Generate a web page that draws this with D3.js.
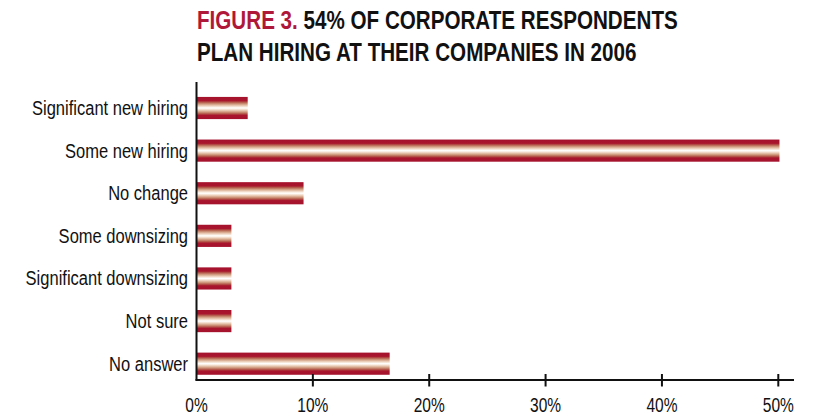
<!DOCTYPE html>
<html>
<head>
<meta charset="utf-8">
<script src="https://cdn.jsdelivr.net/npm/d3@7"></script>
<style>
  html, body { margin: 0; padding: 0; background: #fff; }
  svg { display: block; }
  text { font-family: "Liberation Sans", Arial, sans-serif; }
</style>
</head>
<body>
<svg id="chart" width="827" height="418"></svg>
<script>
// Hiring plans for 2006, share of corporate respondents (%)
const categories = [
  "Significant new hiring",
  "Some new hiring",
  "No change",
  "Some downsizing",
  "Significant downsizing",
  "Not sure",
  "No answer"
];
const values = [4.4, 50.1, 9.2, 3.0, 3.0, 3.0, 16.6];
const tickValues = [0, 10, 20, 30, 40, 50];
const tickLabels = ["0%", "10%", "20%", "30%", "40%", "50%"];

const svg = d3.select("#chart");

// Condensed type: squeeze text horizontally around its anchor point
const squeeze = (px, py, sx) => `translate(${px},${py}) scale(${sx},1)`;

// Bar fill: crimson edges fading through tan to a white centre line
const defs = svg.append("defs");
const grad = defs.append("linearGradient")
  .attr("id", "barGrad")
  .attr("x1", 0).attr("y1", 0).attr("x2", 0).attr("y2", 1);
[
  [0.00, "#a5122c"], [0.17, "#a8152d"], [0.24, "#b4584a"],
  [0.32, "#cf9a7e"], [0.40, "#ebcdb8"], [0.47, "#fbf3ec"],
  [0.50, "#ffffff"], [0.53, "#fbf3ec"], [0.60, "#ebcdb8"],
  [0.68, "#cf9a7e"], [0.76, "#b4584a"], [0.83, "#a8152d"],
  [1.00, "#a5122c"]
].forEach(([o, c]) => grad.append("stop").attr("offset", o).attr("stop-color", c));

const x = d3.scaleLinear().domain([0, 50]).range([196.5, 778.3]);
const y = d3.scaleBand().domain(categories)
  .range([86.7, 385]).paddingInner(0.48).paddingOuter(0.24);

// Title
const title = svg.append("text")
  .attr("transform", squeeze(197, 29, 0.825))
  .attr("font-size", 25).attr("font-weight", "bold");
title.append("tspan").attr("fill", "#b0183a").text("FIGURE 3.");
title.append("tspan").attr("fill", "#111").text(" 54% OF CORPORATE RESPONDENTS");
svg.append("text")
  .attr("transform", squeeze(197, 61, 0.825))
  .attr("font-size", 25).attr("font-weight", "bold").attr("fill", "#111")
  .text("PLAN HIRING AT THEIR COMPANIES IN 2006");

// Bars
svg.append("g").selectAll("rect")
  .data(categories)
  .join("rect")
  .attr("x", x(0))
  .attr("y", d => y(d))
  .attr("width", (d, i) => x(values[i]) - x(0))
  .attr("height", y.bandwidth())
  .attr("fill", "url(#barGrad)");

// Category labels
svg.append("g").selectAll("text")
  .data(categories)
  .join("text")
  .attr("transform", d => squeeze(188, y(d) + y.bandwidth() / 2, 0.826))
  .attr("dy", "0.35em")
  .attr("text-anchor", "end")
  .attr("font-size", 20)
  .attr("fill", "#111")
  .text(d => d);

// Axis lines
svg.append("line")
  .attr("x1", x(0)).attr("x2", x(0))
  .attr("y1", 82).attr("y2", 380.5)
  .attr("stroke", "#111").attr("stroke-width", 2);
svg.append("line")
  .attr("x1", x(0) - 1).attr("x2", 794)
  .attr("y1", 380).attr("y2", 380)
  .attr("stroke", "#111").attr("stroke-width", 2);

// X ticks crossing the baseline
const xAxis = svg.append("g");
xAxis.selectAll("line")
  .data(tickValues.slice(1))
  .join("line")
  .attr("x1", d => x(d)).attr("x2", d => x(d))
  .attr("y1", 374).attr("y2", 386.5)
  .attr("stroke", "#111").attr("stroke-width", 2);
xAxis.selectAll("text")
  .data(tickValues)
  .join("text")
  .attr("transform", d => squeeze(x(d), 412, 0.74))
  .attr("text-anchor", "middle")
  .attr("font-size", 21)
  .attr("fill", "#111")
  .text((d, i) => tickLabels[i]);
</script>
</body>
</html>
